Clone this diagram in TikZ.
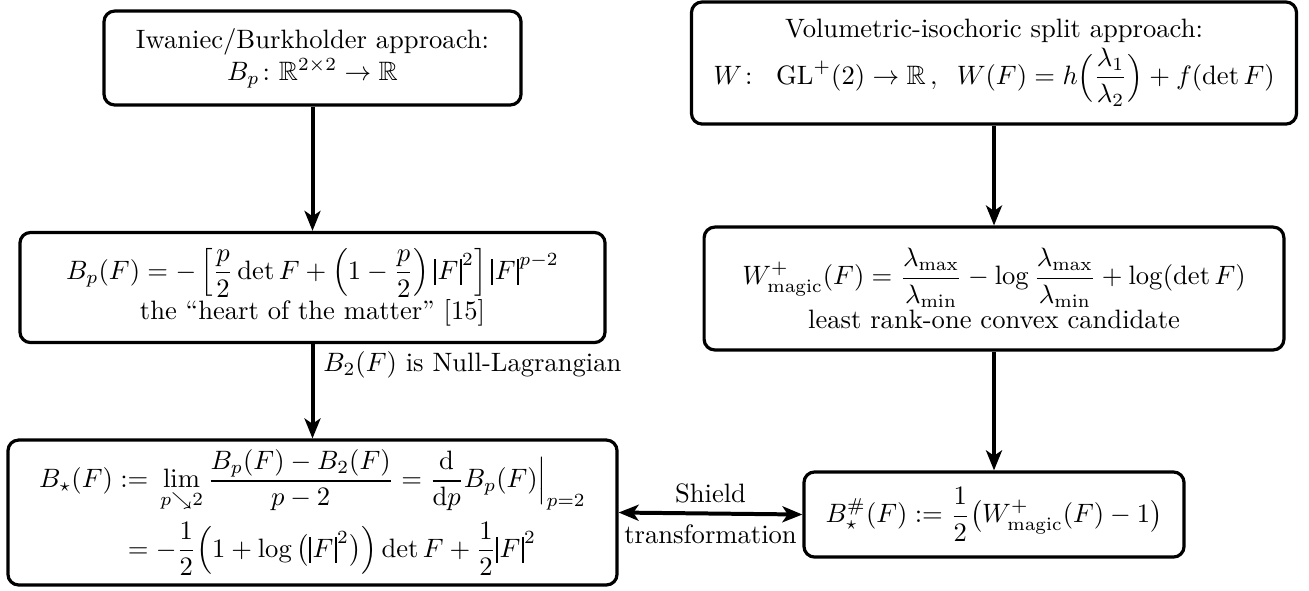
\documentclass[tikz,border=0pt]{standalone}
\usepackage{amsmath,amssymb,bm}
\usetikzlibrary{positioning,arrows.meta}
\newcommand{\vbar}{\rule[-2.2pt]{0.85pt}{9.6pt}}
\newcommand{\nrm}[1]{\mathopen{\vbar}\mkern1mu#1\mkern1mu\mathclose{\vbar}}
\tikzset{
  blk/.style={draw, very thick, rounded corners=4pt, align=center, inner sep=3pt},
  arr/.style={-{Stealth[length=7.5pt,width=6pt,inset=2pt]}, line width=1.5pt}
}

\begin{document}
\begin{tikzpicture}[x=0.376pt, y=-0.376pt]
  \useasboundingbox (0,0) rectangle (1309,590);
  % left column
  \node[blk, minimum width=156.8pt, minimum height=35.3pt] (iw) at (312.5,58)
    {Iwaniec/Burkholder approach:\\ $B_p\colon\mathbb{R}^{2\times 2}\to\mathbb{R}$};
  \node[blk, minimum width=220pt, minimum height=41.4pt] (hm) at (312.5,287.5)
    {$\displaystyle B_p(F)=-\left[\frac{p}{2}\det F+\left(1-\frac{p}{2}\right)\nrm{F}^2\right]\nrm{F}^{p-2}$\\
     the ``heart of the matter'' [15]};
  \node[blk, minimum width=229pt, minimum height=54.5pt] (bs) at (312.5,512.5)
    {$\begin{aligned}
      B_\star(F):={}&\lim_{p\searrow 2}\frac{B_p(F)-B_2(F)}{p-2}=\frac{\mathrm{d}}{\mathrm{d}p}B_p(F)\Bigr|_{p=2}\\
      ={}&\mathord{-}\frac{1}{2}\Bigl(1+\log\,\bigl(\nrm{F}^2\bigr)\Bigr)\det F+\frac{1}{2}\nrm{F}^2
     \end{aligned}$};
  % right column
  \node[blk, minimum width=227.5pt, minimum height=45.9pt] (vi) at (994,63)
    {Volumetric-isochoric split approach:\\[1pt]
     $\displaystyle W\colon\;\;\mathrm{GL}^+(2)\to\mathbb{R}\,,\;\;W(F)=h\Bigl(\frac{\lambda_1}{\lambda_2}\Bigr)+f(\det F)$};
  \node[blk, minimum width=218pt, minimum height=46.2pt] (wm) at (994,288.5)
    {$\displaystyle W^+_{\mathrm{magic}}(F)=\frac{\lambda_{\max}}{\lambda_{\min}}-\log\frac{\lambda_{\max}}{\lambda_{\min}}+\log(\det F)$\\
     least rank-one convex candidate};
  \node[blk, minimum width=142.9pt, minimum height=32pt] (bh) at (994,514.5)
    {$\displaystyle B^{\#}_\star(F):=\frac{1}{2}\bigl(W^+_{\mathrm{magic}}(F)-1\bigr)$};
  % connectors
  \draw[arr] (iw.south) -- (hm.north);
  \draw[arr] (hm.south) -- node[pos=0.22, right]{$B_2(F)$ is Null-Lagrangian} (bs.north);
  \draw[arr] (vi.south) -- (wm.north);
  \draw[arr] (wm.south) -- (bh.north);
  \draw[arr, {Stealth[length=7.5pt,width=6pt,inset=2pt]}-{Stealth[length=7.5pt,width=6pt,inset=2pt]}] (bs.east) --
    node[above]{Shield} node[below]{transformation} (bh.west);
\end{tikzpicture}
\end{document}
